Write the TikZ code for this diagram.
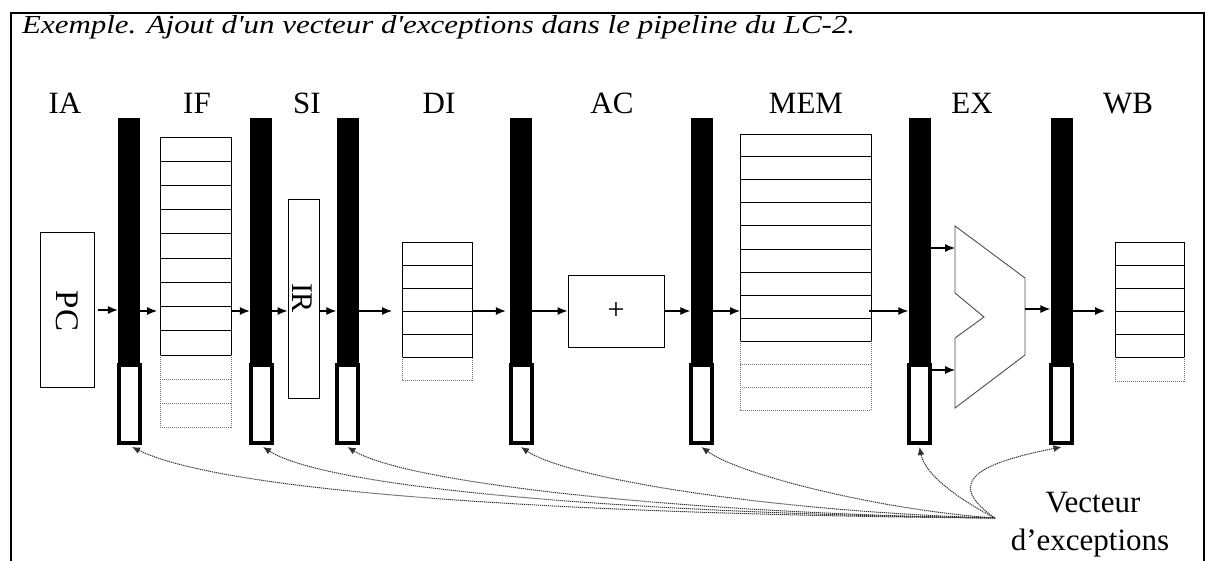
\documentclass[tikz,border=0pt]{standalone}
\usepackage{fontspec}
\setmainfont{Liberation Serif}
\usetikzlibrary{arrows.meta}
\begin{document}
\begin{tikzpicture}[x=1pt,y=-1pt,
  stagelbl/.style={anchor=base, font=\fontsize{31}{36}\selectfont, inner sep=0pt},
  pbar/.style={fill=black, draw=none, minimum width=22pt, minimum height=245pt, inner sep=0pt},
  preg/.style={draw=black, fill=white, line width=4pt, minimum width=21pt, minimum height=78pt, inner sep=0pt},
  membox/.style={draw=black, line width=1pt, inner sep=0pt, anchor=north west},
  memline/.style={line width=1pt},
  memdot/.style={line width=0.9pt, black!55, dash pattern=on 1pt off 1pt},
  unit/.style={draw=black, line width=1pt, fill=white, inner sep=0pt},
  arr/.style={line width=1.2pt, -{Latex[length=10pt,width=8pt]}},
  exc/.style={line width=1pt, black!80, dash pattern=on 1.2pt off 0.8pt, -{Latex[length=8pt,width=7pt]}},
  vtxt/.style={anchor=base, font=\fontsize{31}{36}\selectfont, inner sep=0pt},
]
\useasboundingbox (0,0) rectangle (1206,561);
% frame
\draw[line width=2pt] (11,562) -- (11,13) -- (1204,13) -- (1204,562);
% title
\node[anchor=base west, inner sep=0pt, font=\fontsize{26}{30}\selectfont\itshape] (title) at (22,34)
  {\scalebox{1.19}[1]{Exemple. Ajout d\textquotesingle un vecteur d\textquotesingle exceptions dans le pipeline du LC-2.}};
% stage labels
\node[stagelbl] (lIA) at (65,114) {IA};
\node[stagelbl] (lIF) at (197,114) {IF};
\node[stagelbl] (lSI) at (307,114) {SI};
\node[stagelbl] (lDI) at (439,114) {DI};
\node[stagelbl] (lAC) at (612,114) {AC};
\node[stagelbl] (lMEM) at (806,114) {MEM};
\node[stagelbl] (lEX) at (972,114) {EX};
\node[stagelbl] (lWB) at (1128,114) {WB};
% pipeline registers
\foreach \n/\x in {1/129,2/261,3/347.5,4/521,5/701.5,6/919.5,7/1061.5}{
  \node[pbar] (bar\n) at (\x,240.5) {};
  \node[preg] (reg\n) at (\x,404) {};
}
% PC
\node[unit, minimum width=54pt, minimum height=154pt] (pc) at (67,310) {};
\node[rotate=-90, inner sep=0pt, font=\fontsize{33}{36}\selectfont] (pctxt) at (67,311) {PC};
% IR
\node[unit, minimum width=31pt, minimum height=198pt] (ir) at (303.5,299) {};
\node[rotate=-90, inner sep=0pt, font=\fontsize{30}{36}\selectfont] (irtxt) at (302,298) {IR};
% adder
\node[unit, minimum width=96pt, minimum height=72pt, font=\fontsize{30}{36}\selectfont] (add) at (616,311) {+};
% IF memory
\node[membox, minimum width=71pt, minimum height=218pt] (ifm) at (160,137) {};
\foreach \k in {1,...,8} \draw[memline] (160,{137+\k*24.22}) -- (231,{137+\k*24.22});
\draw[memdot] (160,355) -- (160,427) -- (231,427) -- (231,355);
\foreach \k in {1,2} \draw[memdot] (160,{355+\k*24}) -- (231,{355+\k*24});
% DI memory
\node[membox, minimum width=70pt, minimum height=115pt] (dim) at (402,242) {};
\foreach \k in {1,...,4} \draw[memline] (402,{242+\k*23}) -- (472,{242+\k*23});
\draw[memdot] (402,357) -- (402,380) -- (472,380) -- (472,357);
% MEM memory
\node[membox, minimum width=131pt, minimum height=207pt] (memm) at (740,134) {};
\foreach \k in {1,...,8} \draw[memline] (740,{134+\k*23}) -- (871,{134+\k*23});
\draw[memdot] (740,341) -- (740,410) -- (871,410) -- (871,341);
\foreach \k in {1,2} \draw[memdot] (740,{341+\k*23}) -- (871,{341+\k*23});
% WB memory
\node[membox, minimum width=69pt, minimum height=115pt] (wbm) at (1115,242) {};
\foreach \k in {1,...,4} \draw[memline] (1115,{242+\k*23}) -- (1184,{242+\k*23});
\draw[memdot] (1115,357) -- (1115,381) -- (1184,381) -- (1184,357);
% ALU
\draw[line width=0.9pt, black!70] (955,226) -- (1025,278) -- (1025,355) -- (955,408) -- (955,338) -- (984,317) -- (955,293) -- cycle;
\coordinate (aluA) at (955,248);
\coordinate (aluB) at (955,370);
\coordinate (aluO) at (1025,309);
\coordinate (flow) at (0,311);
% data-path arrows
\draw[arr] ([xshift=3pt]pc.east) -- (bar1.west |- pc.east);
\draw[arr] (bar1.east |- flow) -- ([xshift=-3pt]ifm.west |- flow);
\draw[arr] (ifm.east |- flow) -- (bar2.west |- flow);
\draw[arr] (bar2.east |- flow) -- (ir.west |- flow);
\draw[arr] (ir.east |- flow) -- (bar3.west |- flow);
\draw[arr] (bar3.east |- flow) -- ([xshift=-10pt]dim.west |- flow);
\draw[arr] (dim.east |- flow) -- ([xshift=-4pt]bar4.west |- flow);
\draw[arr] (bar4.east |- flow) -- (add.west |- flow);
\draw[arr] (add.east |- flow) -- (bar5.west |- flow);
\draw[arr] (bar5.east |- flow) -- (memm.west |- flow);
\draw[arr] ([xshift=-3pt]memm.east |- flow) -- (bar6.west |- flow);
\draw[arr] (bar6.east |- aluA) -- (aluA);
\draw[arr] (bar6.east |- aluB) -- (aluB);
\draw[arr] (aluO) -- (bar7.west |- aluO);
\draw[arr] (bar7.east |- flow) -- ([xshift=-10pt]wbm.west |- flow);
% exception vector
\node[vtxt] (vt1) at (1093,512) {Vecteur};
\node[vtxt] (vt2) at (1090,550) {d’exceptions};
\coordinate (vec) at (995,518);
\draw[exc] (vec) .. controls (600,515) and (230,495) .. ([xshift=3pt,yshift=-2pt]reg1.south);
\draw[exc] (vec) .. controls (650,514) and (330,490) .. ([xshift=2pt,yshift=-2pt]reg2.south);
\draw[exc] (vec) .. controls (700,514) and (410,485) .. ([yshift=-2pt]reg3.south);
\draw[exc] (vec) .. controls (780,512) and (570,480) .. ([yshift=-2pt]reg4.south);
\draw[exc] (vec) .. controls (880,510) and (740,475) .. ([yshift=-2pt]reg5.south);
\draw[exc] (vec) .. controls (960,500) and (925,475) .. ([yshift=-2pt]reg6.south);
\draw[exc] (vec) .. controls (940,480) and (985,462) .. ([yshift=-2pt]reg7.south);
\end{tikzpicture}
\end{document}
